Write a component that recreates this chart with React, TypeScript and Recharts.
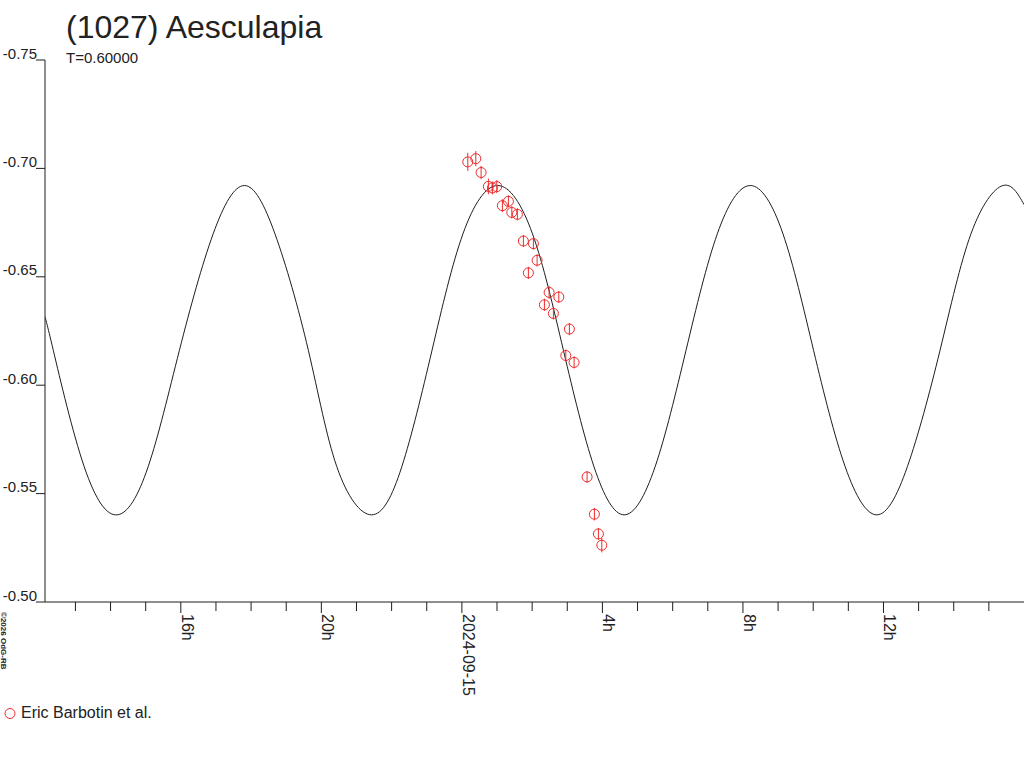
import React from 'react';
import { ComposedChart, Line, Scatter, XAxis, YAxis, ErrorBar } from 'recharts';

// Model light curve (hours relative to 2024-09-15 0h, magnitude)
const curveHours = [-11.87, -11.63, -10.75, -9.81, -8.93, -8.04, -7.08, -6.19, -5.32, -4.37, -3.56, -2.57, -1.71, -0.85, 0.03, 1.02, 2.01, 2.89, 3.76, 4.62, 5.5, 6.38, 7.27, 8.21, 9.14, 10.01, 10.91, 11.81, 12.68, 13.61, 14.49, 15.4, 16.0];
const curveMag = [-0.6317, -0.6161, -0.5624, -0.5402, -0.5624, -0.6161, -0.6698, -0.6921, -0.6698, -0.6161, -0.5624, -0.5402, -0.5624, -0.6161, -0.6698, -0.6921, -0.6698, -0.6161, -0.5624, -0.5402, -0.5624, -0.6161, -0.6698, -0.6921, -0.6698, -0.6161, -0.5624, -0.5402, -0.5624, -0.6161, -0.6698, -0.6921, -0.6833];

// Observations (Eric Barbotin et al.)
const obsHours = [0.168, 0.396, 0.547, 0.754, 0.868, 0.994, 1.153, 1.324, 1.421, 1.58, 1.751, 1.893, 2.036, 2.141, 2.349, 2.483, 2.605, 2.759, 2.958, 3.06, 3.194, 3.564, 3.772, 3.886, 3.983];
const obsMag = [-0.703, -0.7045, -0.6981, -0.6917, -0.691, -0.6916, -0.6828, -0.6848, -0.6797, -0.6788, -0.6665, -0.6518, -0.6653, -0.6576, -0.6371, -0.6428, -0.6331, -0.6407, -0.6137, -0.6259, -0.6105, -0.5577, -0.5405, -0.5314, -0.5262];
const obsErr = [0.0042, 0.0035, 0.0031, 0.0036, 0.003, 0.003, 0.003, 0.0028, 0.0028, 0.0028, 0.0028, 0.0028, 0.0028, 0.0028, 0.0028, 0.003, 0.0028, 0.0028, 0.0028, 0.0028, 0.0028, 0.0027, 0.0029, 0.0027, 0.0033];

// Axis ticks
const yTicks = [-0.75, -0.7, -0.65, -0.6, -0.55, -0.5];
const majorHours = [-8, -4, 0, 4, 8, 12];
const majorLabels = ['16h', '20h', '2024-09-15', '4h', '8h', '12h'];
const xTicks = [-11, -10, -9, -8, -7, -6, -5, -4, -3, -2, -1, 0, 1, 2, 3, 4, 5, 6, 7, 8, 9, 10, 11, 12, 13, 14, 15];
const xDomain: [number, number] = [-11.866, 16.0];
const yDomain: [number, number] = [-0.75, -0.5];

const title = '(1027) Aesculapia';
const subtitle = 'T=0.60000';
const legendLabel = 'Eric Barbotin et al.';
const copyright = '\u00A92026 OdG-RB';

const curveData = curveHours.map((h, i) => ({ h, mag: curveMag[i] }));
const obsData = obsHours.map((h, i) => ({ h, mag: obsMag[i], err: obsErr[i] }));

const AXIS = '#1e1e1e';
const TEXT = '#222222';
const RED = '#ee2b2b';
const FONT = '"Liberation Sans", Arial, sans-serif';

const XTick = (props: any) => {
  const { x, y, payload } = props;
  const idx = majorHours.indexOf(payload.value);
  const major = idx >= 0;
  const tx = x + 1;
  const ty = y + 12;
  return (
    <g>
      <line x1={x} y1={y} x2={x} y2={y + (major ? 11 : 9)} stroke={AXIS} strokeWidth={1} />
      {major && (
        <text
          x={tx}
          y={ty}
          transform={`rotate(90 ${tx} ${ty})`}
          textAnchor="start"
          fontSize={16}
          fontFamily={FONT}
          fill={TEXT}
        >
          {majorLabels[idx]}
        </text>
      )}
    </g>
  );
};

const YTick = (props: any) => {
  const { x, y, payload } = props;
  return (
    <text x={x + 1} y={y - 1.5} textAnchor="end" fontSize={15} fontFamily={FONT} fill={TEXT}>
      {Number(payload.value).toFixed(2)}
    </text>
  );
};

const RingShape = (props: any) => {
  const { cx, cy } = props;
  if (cx == null || cy == null) return null;
  return <circle cx={cx} cy={cy} r={5} fill="none" stroke={RED} strokeWidth={1} />;
};

export default function App() {
  return (
    <div style={{ position: 'absolute', left: 0, top: 0, width: 1024, height: 768, background: '#fff' }}>
      <ComposedChart
        width={1024}
        height={768}
        margin={{ top: 60, right: 0, left: 0, bottom: 0 }}
        style={{ position: 'absolute', left: 0, top: 0 }}
      >
        <XAxis
          type="number"
          dataKey="h"
          domain={xDomain}
          ticks={xTicks}
          allowDataOverflow
          height={166}
          tickSize={0}
          tickMargin={0}
          tickLine={false}
          axisLine={{ stroke: AXIS, strokeWidth: 1 }}
          tick={<XTick />}
          interval={0}
        />
        <YAxis
          type="number"
          domain={yDomain}
          ticks={yTicks}
          reversed
          allowDataOverflow
          width={45}
          tickSize={9}
          tickMargin={0}
          tickLine={{ stroke: AXIS, strokeWidth: 1 }}
          axisLine={{ stroke: AXIS, strokeWidth: 1 }}
          tick={<YTick />}
          interval={0}
        />
        <Line
          data={curveData}
          dataKey="mag"
          type="natural"
          stroke={AXIS}
          strokeWidth={1}
          dot={false}
          activeDot={false}
          isAnimationActive={false}
        />
        <Scatter data={obsData} dataKey="mag" shape={<RingShape />} isAnimationActive={false}>
          <ErrorBar dataKey="err" direction="y" width={0} stroke={RED} strokeWidth={1} isAnimationActive={false} />
        </Scatter>
      </ComposedChart>
      <svg
        width={1024}
        height={768}
        style={{ position: 'absolute', left: 0, top: 0, pointerEvents: 'none' }}
      >
        <text x={66} y={38} fontSize={32} fontFamily={FONT} fill={TEXT}>{title}</text>
        <text x={66} y={63} fontSize={15} fontFamily={FONT} fill={TEXT}>{subtitle}</text>
        <circle cx={10} cy={713.5} r={5} fill="none" stroke={RED} strokeWidth={1} />
        <text x={21} y={718} fontSize={16} fontFamily={FONT} fill={TEXT}>{legendLabel}</text>
        <text
          x={1}
          y={612}
          transform="rotate(90 1 612)"
          fontSize={8}
          fontWeight="bold"
          fontFamily={FONT}
          fill={TEXT}
        >
          {copyright}
        </text>
      </svg>
    </div>
  );
}
